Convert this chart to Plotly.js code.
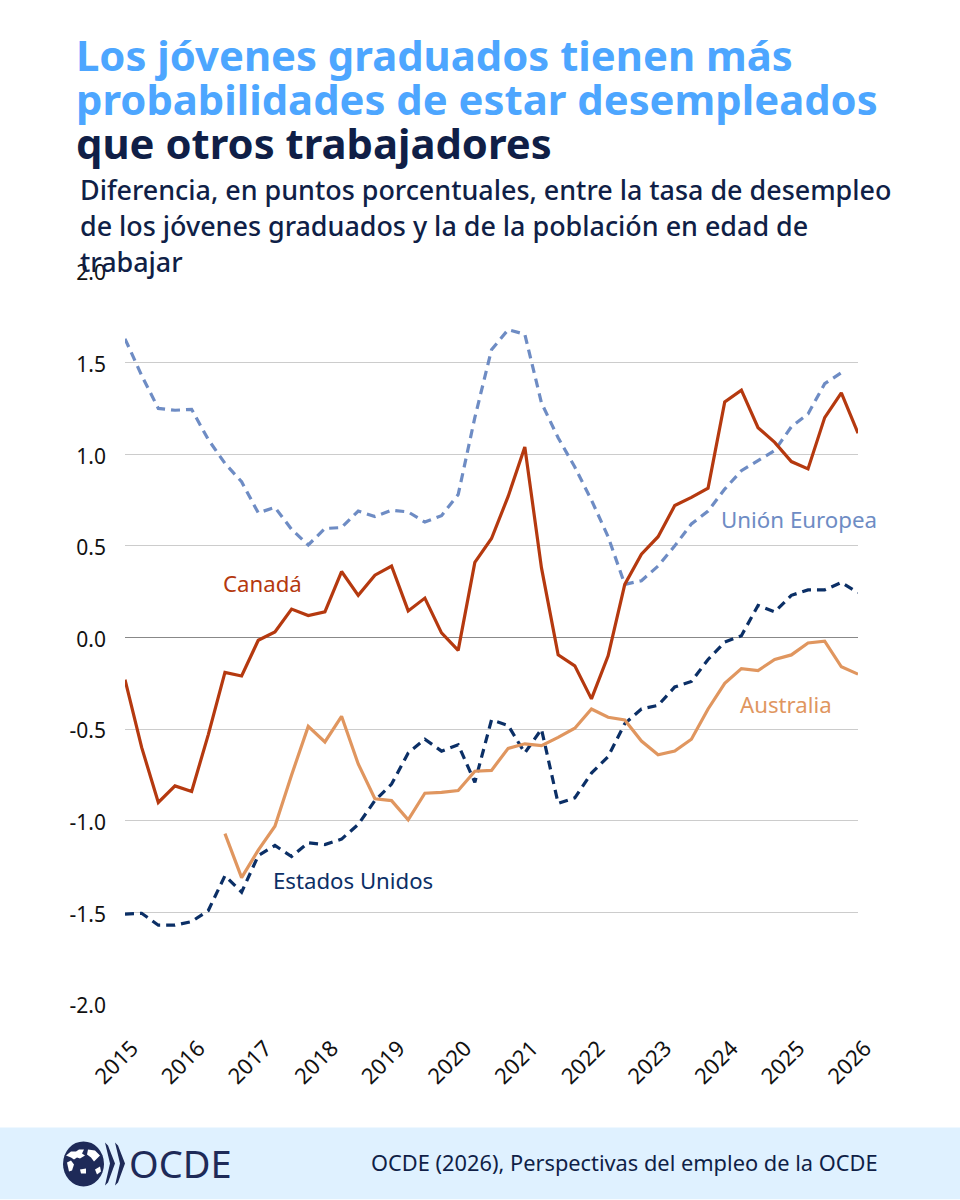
<!DOCTYPE html>
<html><head><meta charset="utf-8">
<script src="https://cdn.plot.ly/plotly-3.0.1.min.js"></script>
<style>html,body{margin:0;padding:0;background:#fff}#c{width:960px;height:1200px}</style>
</head><body><div id="c"></div>
<script>
const quarters = ["2015-Q1","2015-Q2","2015-Q3","2015-Q4","2016-Q1","2016-Q2","2016-Q3","2016-Q4","2017-Q1","2017-Q2","2017-Q3","2017-Q4","2018-Q1","2018-Q2","2018-Q3","2018-Q4","2019-Q1","2019-Q2","2019-Q3","2019-Q4","2020-Q1","2020-Q2","2020-Q3","2020-Q4","2021-Q1","2021-Q2","2021-Q3","2021-Q4","2022-Q1","2022-Q2","2022-Q3","2022-Q4","2023-Q1","2023-Q2","2023-Q3","2023-Q4","2024-Q1","2024-Q2","2024-Q3","2024-Q4","2025-Q1","2025-Q2","2025-Q3","2025-Q4","2026-Q1"];
const canada = [-0.23,-0.6,-0.9,-0.81,-0.84,-0.53,-0.19,-0.21,-0.015,0.03,0.155,0.12,0.14,0.36,0.23,0.34,0.39,0.145,0.215,0.025,-0.07,0.41,0.54,0.77,1.04,0.38,-0.095,-0.155,-0.335,-0.1,0.29,0.455,0.55,0.72,0.765,0.815,1.285,1.35,1.145,1.065,0.96,0.92,1.2,1.335,1.115];
const unionEuropea = [1.63,1.43,1.25,1.24,1.245,1.08,0.95,0.85,0.68,0.71,0.59,0.505,0.595,0.6,0.69,0.66,0.695,0.685,0.63,0.665,0.78,1.2,1.57,1.68,1.655,1.28,1.09,0.93,0.75,0.55,0.29,0.31,0.39,0.5,0.62,0.69,0.81,0.91,0.965,1.02,1.15,1.22,1.385,1.445,null];
const estadosUnidos = [-1.51,-1.505,-1.57,-1.57,-1.55,-1.49,-1.3,-1.39,-1.19,-1.135,-1.195,-1.12,-1.13,-1.1,-1.02,-0.89,-0.8,-0.63,-0.555,-0.62,-0.585,-0.79,-0.45,-0.48,-0.63,-0.5,-0.905,-0.875,-0.74,-0.65,-0.47,-0.39,-0.37,-0.27,-0.24,-0.12,-0.025,0.01,0.175,0.14,0.23,0.26,0.26,0.3,0.245];
const australia = [null,null,null,null,null,null,-1.07,-1.31,-1.16,-1.03,-0.75,-0.485,-0.57,-0.43,-0.69,-0.88,-0.89,-0.995,-0.85,-0.845,-0.835,-0.73,-0.725,-0.605,-0.58,-0.59,-0.545,-0.495,-0.39,-0.435,-0.45,-0.565,-0.64,-0.62,-0.555,-0.39,-0.25,-0.17,-0.18,-0.12,-0.095,-0.03,-0.02,-0.16,-0.2];
const yearTicks = ["2015-Q1","2016-Q1","2017-Q1","2018-Q1","2019-Q1","2020-Q1","2021-Q1","2022-Q1","2023-Q1","2024-Q1","2025-Q1","2026-Q1"];
const yearLabels = ["2015","2016","2017","2018","2019","2020","2021","2022","2023","2024","2025","2026"];
const yTicks = [-2,-1.5,-1,-0.5,0,0.5,1,1.5,2];
const yLabels = ["-2.0","-1.5","-1.0","-0.5","0.0","0.5","1.0","1.5","2.0"];

const FONT = '"Noto Sans", sans-serif';
const W = 960, H = 1200;
const L = 125, R = 858, T = 271, B = 1004.5;
const px = v => (v - L) / (R - L), py = v => (B - v) / (B - T);
const C = {ca:'#B5390F', eu:'#6E8CC4', us:'#0B2F66', au:'#E0965F', blue:'#4DA6FF', navy:'#101F47', logo:'#1E2A58'};

function line(name, y, color, dash){
  return {type:'scatter', mode:'lines', name, x:quarters, y, connectgaps:false, cliponaxis:false,
    line:{color, width:3.2, dash: dash || 'solid', shape:'linear'}, hoverinfo:'skip'};
}
const traces = [
  line('Unión Europea', unionEuropea, C.eu, '9px,6px'),
  line('Estados Unidos', estadosUnidos, C.us, '9px,6px'),
  line('Australia', australia, C.au),
  line('Canadá', canada, C.ca)
];

function txt(text, x, y, size, color, weight){
  return {xref:'paper', yref:'paper', x:px(x), y:py(y), text, showarrow:false,
    xanchor:'left', yanchor:'middle', align:'left', borderpad:0, borderwidth:0,
    font:{family:FONT, size, color, weight:weight||400}};
}
const annotations = [
  txt('Los jóvenes graduados tienen más', 76, 54, 41.8, C.blue, 700),
  txt('probabilidades de estar desempleados', 76, 98.5, 41.8, C.blue, 700),
  txt('que otros trabajadores', 76, 142.5, 41.8, C.navy, 700),
  txt('Diferencia, en puntos porcentuales, entre la tasa de desempleo', 80, 189.5, 26.9, C.navy, 500),
  txt('de los jóvenes graduados y la de la población en edad de', 80, 225.5, 26.9, C.navy, 500),
  txt('trabajar', 80, 261.5, 26.9, C.navy, 500),
  txt('Canadá', 223, 584, 22.2, C.ca),
  txt('Unión Europea', 721, 520, 22.3, C.eu),
  txt('Australia', 740, 705, 22.2, C.au),
  txt('Estados Unidos', 273, 881, 22.2, C.us),
  txt('OCDE (2026), Perspectivas del empleo de la OCDE', 371, 1163, 21.8, C.navy),
  txt('OCDE', 129, 1164, 38, C.logo)
];

function paperPath(points, fill){
  const d = points.map((p,i)=>(i?'L':'M')+px(p[0])+','+py(p[1])).join(' ')+' Z';
  return {type:'path', xref:'paper', yref:'paper', path:d, fillcolor:fill, line:{width:0}, layer:'above'};
}
const shapes = [
  {type:'rect', xref:'paper', yref:'paper', x0:px(0), x1:px(960), y0:py(1200), y1:py(1128), fillcolor:'#DFF1FF', line:{width:0}, layer:'below'},
  {type:'circle', xref:'paper', yref:'paper', x0:px(63), x1:px(104), y0:py(1187), y1:py(1142), fillcolor:C.logo, line:{width:0}, layer:'above'},
  paperPath([[66,1156],[71,1152],[76,1152],[79,1150],[84,1150],[82,1154],[85,1156],[80,1159],[77,1158],[74,1160],[71,1158]], '#FFFFFF'),
  paperPath([[88,1150],[95,1151],[100,1156],[97,1159],[94,1162],[91,1158],[87,1155]], '#FFFFFF'),
  paperPath([[67,1163],[71,1161],[74,1165],[72,1171],[69,1172]], '#FFFFFF'),
  paperPath([[80,1170],[86,1169],[86,1174],[81,1174]], '#FFFFFF'),
  paperPath([[95,1170],[100,1167],[101,1172],[97,1175]], '#FFFFFF'),
  paperPath([[105,1143],[108,1146],[115,1164],[108,1183],[105,1186],[110,1164]], C.logo),
  paperPath([[115,1143],[118,1146],[125,1164],[118,1183],[115,1186],[120,1164]], C.logo)
];

const layout = {
  width:W, height:H, autosize:false, showlegend:false,
  paper_bgcolor:'#ffffff', plot_bgcolor:'#ffffff',
  margin:{l:L, r:W-R, t:T, b:H-B, pad:0},
  font:{family:FONT, color:'#111111', size:20},
  xaxis:{type:'category', categoryorder:'array', categoryarray:quarters, range:[0,44],
    tickmode:'array', tickvals:yearTicks, ticktext:yearLabels, tickangle:-45,
    showgrid:false, zeroline:false, showline:false, ticks:'', ticklen:0,
    ticklabelstandoff:26, ticklabelshift:7,
    tickfont:{family:FONT, size:22, color:'#111111'}},
  yaxis:{range:[-2,2], tickmode:'array', tickvals:yTicks, ticktext:yLabels,
    showgrid:true, gridcolor:'#CCCCCC', gridwidth:1.2,
    zeroline:true, zerolinecolor:'#888888', zerolinewidth:1.5, showline:false, ticks:'',
    ticklabelstandoff:18, ticklabelshift:2, tickfont:{family:FONT, size:21, color:'#111111'}},
  annotations, shapes
};
Plotly.newPlot('c', traces, layout, {staticPlot:true, displayModeBar:false});
</script></body></html>
